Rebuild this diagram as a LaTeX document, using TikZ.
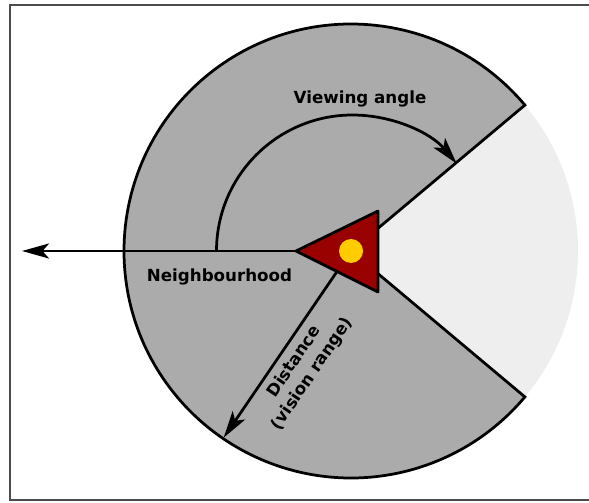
\documentclass[tikz,border=0pt]{standalone}
\usepackage{fontspec}
\setmainfont{DejaVu Sans}
\usetikzlibrary{arrows.meta, calc}
\definecolor{sectorgrey}{HTML}{ABABAB}
\definecolor{blindgrey}{HTML}{EEEEEE}
\definecolor{boidred}{HTML}{990000}
\definecolor{boidyellow}{HTML}{FFCC00}
\tikzset{
  edgeline/.style={black, line width=0.055cm},
  rangearrow/.style={edgeline, -{Stealth[length=0.54cm, width=0.3cm, inset=0.13cm]}},
  caption/.style={font=\bfseries, inner sep=0pt, scale=0.95}
}
\begin{document}
\begin{tikzpicture}
  \useasboundingbox (0,0) rectangle (11.78,10.04);
  \fill[white] (0,0) rectangle (11.78,10.04);
  % Frame, open on the right
  \draw[black!70, line width=0.05cm] (11.78,9.94) -- (0.2,9.94) -- (0.2,0.04) -- (11.78,0.04);
  \coordinate (centre) at (7.02,5.02);
  % Field of view
  \fill[blindgrey] (centre) -- ++(-40:4.54) arc (-40:40:4.54) -- cycle;
  \fill[sectorgrey] (centre) -- ++(40:4.54) arc (40:320:4.54) -- cycle;
  \draw[edgeline] (centre) -- ++(40:4.54) arc (40:320:4.54) -- cycle;
  % Angle and range arrows
  \coordinate (heading) at (0.44,5.02);
  \coordinate (anglestart) at ($(centre)+(180:2.69)$);
  \coordinate (rangeend) at ($(centre)+(235.7:4.52)$);
  \draw[rangearrow] (anglestart) arc (180:40:2.72);
  \draw[rangearrow] (centre) -- (rangeend);
  \draw[rangearrow] (centre) -- (heading);
  % Boid
  \coordinate (nose) at (5.92,5.02);
  \coordinate (wingtop) at (7.56,5.82);
  \coordinate (wingbottom) at (7.56,4.2);
  \draw[edgeline, fill=boidred, line join=round] (nose) -- (wingtop) -- (wingbottom) -- cycle;
  \node[fill=boidyellow, circle, minimum size=0.48cm, inner sep=0pt] (eye) at (centre) {};
  % Labels
  \node[caption] (viewing) at (7.2,8.06) {Viewing angle};
  \node[caption] (neighbourhood) at (4.39,4.5) {Neighbourhood};
  \node[caption, rotate=56, align=center] (distance) at (6.07,2.68) {Distance\\[1pt](vision range)};
\end{tikzpicture}
\end{document}
